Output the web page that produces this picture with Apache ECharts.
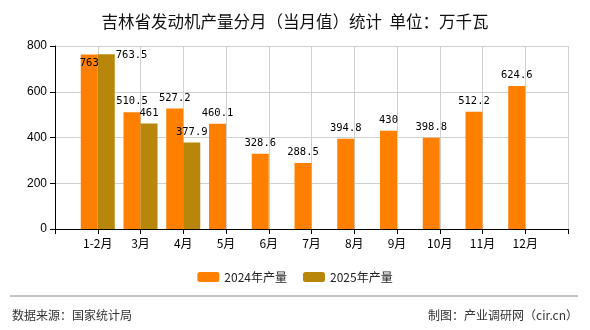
<!DOCTYPE html>
<html><head><meta charset="utf-8">
<script src="https://cdn.jsdelivr.net/npm/echarts@6/dist/echarts.min.js"></script>
<style>html,body{margin:0;padding:0;background:#fff}#c{width:590px;height:330px}</style>
</head><body><div id="c"></div>
<script>
var categories = ['1-2月','3月','4月','5月','6月','7月','8月','9月','10月','11月','12月'];
var values2024 = [763, 510.5, 527.2, 460.1, 328.6, 288.5, 394.8, 430, 398.8, 512.2, 624.6];
var values2025 = [763.5, 461, 377.9];
var yTicks = [0, 200, 400, 600, 800];

var cats = [''].concat(categories).concat(['']);
var lblFont = 'DejaVu Sans Mono';
function pad(arr){
  var out = ['-'];
  for (var i=0;i<categories.length;i++){ out.push(i<arr.length?arr[i]:'-'); }
  out.push('-');
  return out;
}
var d24 = pad(values2024).map(function(v,i){
  if (i===1) return {value:v, label:{position:'insideTop', distance:3}};
  return v;
});
var d25 = pad(values2025).map(function(v,i){
  if (i===1) return {value:v, label:{position:[18,1], align:'left', verticalAlign:'middle'}};
  return v;
});
var chart = echarts.init(document.getElementById('c'));
chart.setOption({
  backgroundColor:'#fff',
  animation:false,
  title:{text:'吉林省发动机产量分月（当月值）统计  单位：万千瓦', left:'center', top:8,
    textStyle:{fontSize:16.5, fontWeight:'normal', color:'#111', fontFamily:'Noto Sans CJK SC'}},
  grid:{left:55, right:22, top:46, bottom:101},
  legend:{bottom:42, left:'center', itemWidth:22, itemHeight:10, itemGap:16,
    textStyle:{fontSize:12, color:'#222', fontFamily:'Noto Sans CJK SC'},
    data:['2024年产量','2025年产量']},
  xAxis:{type:'category', data:cats, boundaryGap:false,
    axisLine:{lineStyle:{color:'#000'}}, axisTick:{show:true, length:5, lineStyle:{color:'#000'}, interval:0},
    axisLabel:{interval:0, color:'#000', fontSize:12, fontFamily:'Noto Sans CJK SC', margin:8},
    splitLine:{show:true, interval:0, lineStyle:{color:'#d0d0d0'}}},
  yAxis:{type:'value', min:yTicks[0], max:yTicks[yTicks.length-1], interval:200,
    axisLine:{show:true, lineStyle:{color:'#000'}}, axisTick:{show:true, length:5, lineStyle:{color:'#000'}},
    axisLabel:{color:'#000', fontSize:12, fontFamily:'Liberation Sans', margin:8},
    splitLine:{lineStyle:{color:'#d0d0d0'}}},
  series:[
    {name:'2024年产量', type:'bar', data:d24, barWidth:17, barGap:'0%', itemStyle:{color:'#FF8000'},
      label:{show:true, position:'top', color:'#000', fontSize:10.5, fontFamily:lblFont}},
    {name:'2025年产量', type:'bar', data:d25, barWidth:17, barGap:'0%', itemStyle:{color:'#B8860B'},
      label:{show:true, position:'top', color:'#000', fontSize:10.5, fontFamily:lblFont}}
  ],
  graphic:[
    {type:'line', shape:{x1:10, y1:296, x2:578, y2:296}, style:{stroke:'#888', lineWidth:1}},
    {type:'text', left:12, top:309, style:{text:'数据来源：国家统计局', fontSize:12, fill:'#333', fontFamily:'Noto Sans CJK SC'}},
    {type:'text', right:12, top:309, style:{text:'制图：产业调研网（cir.cn）', fontSize:12, fill:'#333', fontFamily:'Noto Sans CJK SC'}}
  ]
});
</script></body></html>
